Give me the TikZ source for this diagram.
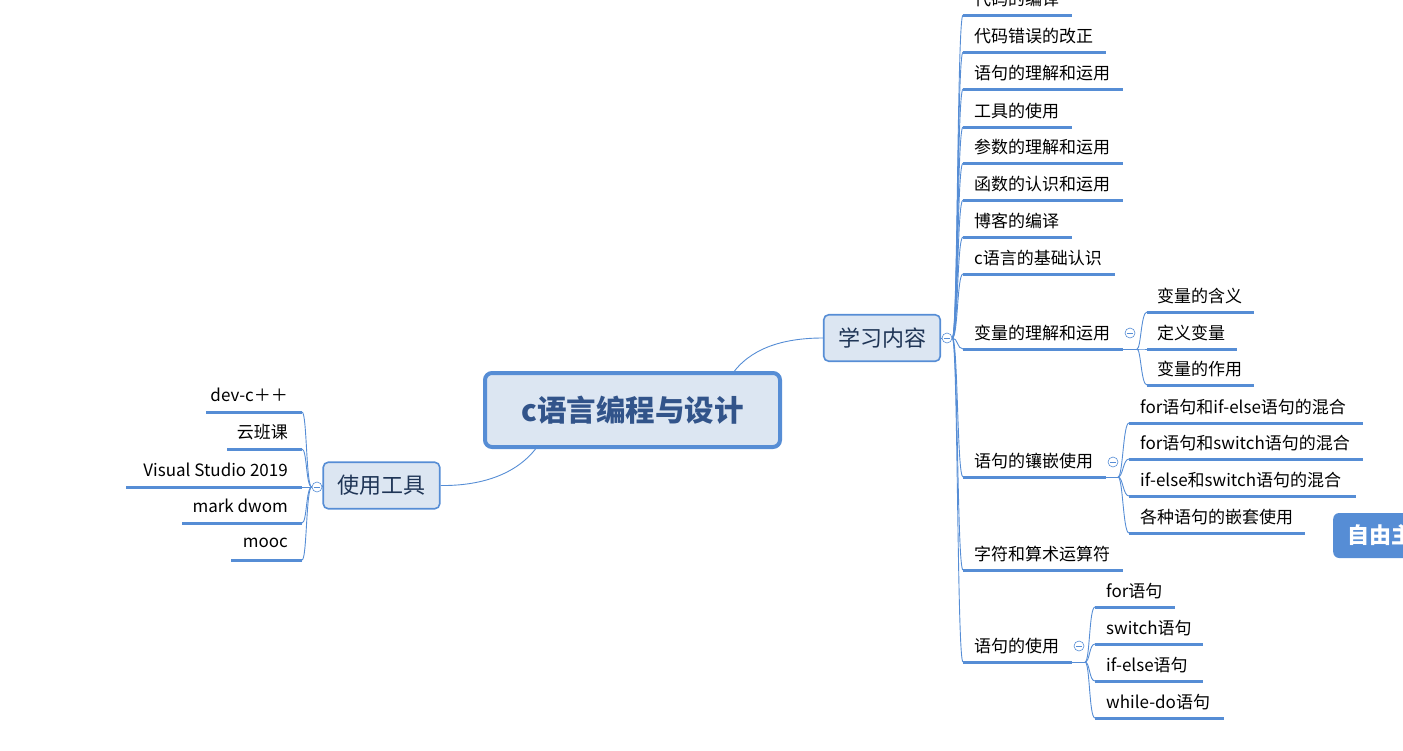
\documentclass[tikz,border=0pt]{standalone}
\usepackage{fontspec}
\setmainfont{Noto Sans CJK SC}
\definecolor{lineblue}{HTML}{568DD5}
\definecolor{nodefill}{HTML}{DCE6F2}
\definecolor{topictext}{HTML}{1F3556}
\definecolor{centertext}{HTML}{32548A}
\tikzset{
  conn/.style={draw=lineblue, line width=0.9pt},
  uline/.style={draw=lineblue, line width=3pt},
  leaf/.style={font=\fontsize{17}{19}\selectfont, inner sep=0pt, text=black},
  topicbox/.style={draw=lineblue, line width=1.6pt, fill=nodefill, rounded corners=5pt,
    minimum width=116.5pt, minimum height=46.5pt, inner sep=0pt, text=topictext,
    font=\fontsize{22}{24}\selectfont},
  centerbox/.style={draw=lineblue, line width=4pt, fill=nodefill, rounded corners=7pt,
    minimum width=295pt, minimum height=74pt, inner sep=0pt, text=centertext,
    font=\fontsize{29.5}{33}\selectfont\bfseries},
  collapse/.style={circle, draw=lineblue, line width=0.6pt, fill=white, minimum size=10pt,
    inner sep=0pt, path picture={\draw[lineblue, line width=0.6pt]
      ([xshift=-2.8pt]path picture bounding box.center) -- ([xshift=2.8pt]path picture bounding box.center);}},
  freebox/.style={fill=lineblue, rounded corners=6pt, minimum height=45pt, inner xsep=14pt,
    text=white, font=\fontsize{22}{24}\selectfont\bfseries, anchor=west}
}
\begin{document}
\begin{tikzpicture}[x=1pt,y=-1pt]
\useasboundingbox (0,0) rectangle (1403,750);

% main nodes
\node[centerbox] (C) at (632.5,410) {c语言编程与设计};
\node[topicbox] (T1) at (882,338) {学习内容};
\node[topicbox] (T2) at (381.5,485.5) {使用工具};

% center connectors
\draw[conn] ([xshift=102pt]C.north) .. controls (755,345) and (790,338) .. (T1.west);
\draw[conn] ([xshift=-97pt]C.south) .. controls (515,475) and (480,486) .. (T2.east);

% ---------- right branch ----------
\node[collapse] (cA) at (947,338) {};
\draw[conn] (T1.east) -- (cA.west);
\foreach \t/\y/\e [count=\i] in {
  代码的编译/15/1072,
  代码错误的改正/52/1106,
  语句的理解和运用/89/1123,
  工具的使用/127/1072,
  参数的理解和运用/163/1123,
  函数的认识和运用/200/1123,
  博客的编译/237/1072,
  c语言的基础认识/274/1115,
  变量的理解和运用/349/1123,
  语句的镶嵌使用/477/1106,
  字符和算术运算符/570/1123,
  语句的使用/662/1072}{
  \coordinate (ru\i) at (963,\y);
  \coordinate (re\i) at (\e,\y);
  \draw[conn] (cA.east) .. controls (958,338) and (957,\y) .. (ru\i);
  \draw[uline] (ru\i) -- (re\i);
  \node[leaf, anchor=west] (r\i) at (974,\y-16) {\t};
}

% sub-branch: 变量的理解和运用
\node[collapse] (cB) at (1130,333) {};
\coordinate (bB) at (1137,349);
\draw[conn] (re9) -- (bB);
\foreach \t/\y/\e [count=\i] in {变量的含义/312/1254, 定义变量/349/1237, 变量的作用/385/1254}{
  \coordinate (bu\i) at (1147,\y);
  \draw[conn] (bB) .. controls (1141,349) and (1141,\y) .. (bu\i);
  \draw[uline] (bu\i) -- (\e,\y);
  \node[leaf, anchor=west] (b\i) at (1157,\y-16) {\t};
}

% sub-branch: 语句的镶嵌使用
\node[collapse] (cC) at (1113,462) {};
\coordinate (bC) at (1118,477);
\draw[conn] (re10) -- (bC);
\foreach \t/\y/\e [count=\i] in {for语句和if-else语句的混合/423/1363, for语句和switch语句的混合/459/1363, if-else和switch语句的混合/496/1356, 各种语句的嵌套使用/533/1305}{
  \coordinate (cu\i) at (1129,\y);
  \draw[conn] (bC) .. controls (1123,477) and (1123,\y) .. (cu\i);
  \draw[uline] (cu\i) -- (\e,\y);
  \node[leaf, anchor=west] (c\i) at (1140,\y-16) {\t};
}

% sub-branch: 语句的使用
\node[collapse] (cD) at (1079,646) {};
\coordinate (bD) at (1085,662);
\draw[conn] (re12) -- (bD);
\foreach \t/\y/\e [count=\i] in {for语句/607/1175, switch语句/644/1203, if-else语句/681/1203, while-do语句/718/1224}{
  \coordinate (du\i) at (1095,\y);
  \draw[conn] (bD) .. controls (1090,662) and (1089,\y) .. (du\i);
  \draw[uline] (du\i) -- (\e,\y);
  \node[leaf, anchor=west] (d\i) at (1106,\y-16) {\t};
}

% ---------- left branch ----------
\node[collapse] (cL) at (317,487) {};
\draw[conn] (T2.west) -- (cL.east);
\foreach \t/\y/\l [count=\i] in {dev-c＋＋/412/206, 云班课/449/227, Visual Studio 2019/487/126, mark dwom/523/182, mooc/560/231}{
  \coordinate (lu\i) at (302,\y);
  \draw[conn] (cL.west) .. controls (306,487) and (307,\y) .. (lu\i);
  \draw[uline] (lu\i) -- (\l,\y);
  \node[leaf, anchor=east] (l\i) at (288,\y-17) {\t};
}

% floating topic (cut by the edge)
\node[freebox] (F) at (1333,535.5) {自由主题};
\end{tikzpicture}
\end{document}
